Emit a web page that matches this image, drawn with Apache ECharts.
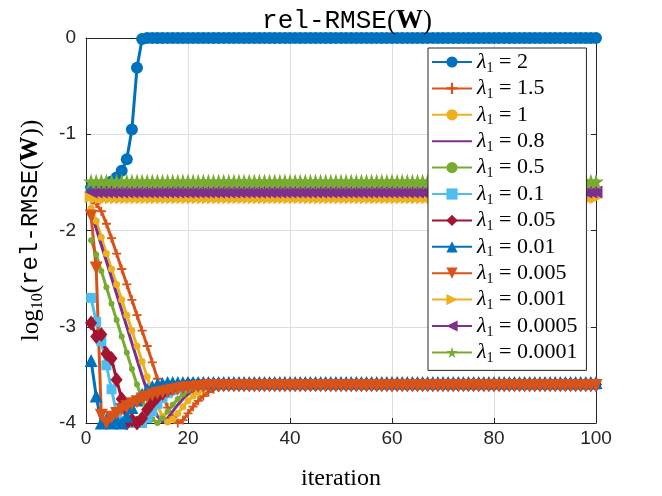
<!DOCTYPE html>
<html>
<head>
<meta charset="utf-8">
<script src="https://cdn.jsdelivr.net/npm/echarts@6/dist/echarts.min.js"></script>
<style>
  html, body { margin: 0; padding: 0; background: #fff; }
  #chart { width: 662px; height: 496px; }
</style>
</head>
<body>
<div id="chart"></div>
<script>
// lambda_1 values shown in the legend
const lambdaLabels = ['2', '1.5', '1', '0.8', '0.5', '0.1', '0.05', '0.01', '0.005', '0.001', '0.0005', '0.0001'];

// iteration index 1..100
const iterations = Array.from({ length: 100 }, (_, i) => i + 1);

// log10(rel-RMSE(W)) per iteration
const lam2 = [
  -1.55,-1.55,-1.54,-1.52,-1.49,-1.45,-1.38,-1.26,-0.95,-0.31,
  -0.01,0,0,0,0,0,0,0,0,0,
  0,0,0,0,0,0,0,0,0,0,
  0,0,0,0,0,0,0,0,0,0,
  0,0,0,0,0,0,0,0,0,0,
  0,0,0,0,0,0,0,0,0,0,
  0,0,0,0,0,0,0,0,0,0,
  0,0,0,0,0,0,0,0,0,0,
  0,0,0,0,0,0,0,0,0,0,
  0,0,0,0,0,0,0,0,0,0
];
const lam15 = [
  -1.68,-1.72,-1.80,-1.93,-2.08,-2.24,-2.40,-2.56,-2.72,-2.88,
  -3.04,-3.20,-3.37,-3.54,-3.70,-3.84,-3.94,-4.00,-3.97,-3.90,
  -3.83,-3.77,-3.72,-3.68,-3.65,-3.63,-3.62,-3.61,-3.61,-3.60,
  -3.60,-3.60,-3.60,-3.60,-3.60,-3.60,-3.60,-3.60,-3.60,-3.60,
  -3.60,-3.60,-3.60,-3.60,-3.60,-3.60,-3.60,-3.60,-3.60,-3.60,
  -3.60,-3.60,-3.60,-3.60,-3.60,-3.60,-3.60,-3.60,-3.60,-3.60,
  -3.60,-3.60,-3.60,-3.60,-3.60,-3.60,-3.60,-3.60,-3.60,-3.60,
  -3.60,-3.60,-3.60,-3.60,-3.60,-3.60,-3.60,-3.60,-3.60,-3.60,
  -3.60,-3.60,-3.60,-3.60,-3.60,-3.60,-3.60,-3.60,-3.60,-3.60,
  -3.60,-3.60,-3.60,-3.60,-3.60,-3.60,-3.60,-3.60,-3.60,-3.60
];
const lam1 = [
  -1.77,-1.90,-2.07,-2.24,-2.40,-2.56,-2.72,-2.88,-3.04,-3.20,
  -3.36,-3.52,-3.68,-3.82,-3.93,-3.99,-3.96,-3.90,-3.83,-3.77,
  -3.72,-3.68,-3.65,-3.63,-3.62,-3.61,-3.61,-3.60,-3.60,-3.60,
  -3.60,-3.60,-3.60,-3.60,-3.60,-3.60,-3.60,-3.60,-3.60,-3.60,
  -3.60,-3.60,-3.60,-3.60,-3.60,-3.60,-3.60,-3.60,-3.60,-3.60,
  -3.60,-3.60,-3.60,-3.60,-3.60,-3.60,-3.60,-3.60,-3.60,-3.60,
  -3.60,-3.60,-3.60,-3.60,-3.60,-3.60,-3.60,-3.60,-3.60,-3.60,
  -3.60,-3.60,-3.60,-3.60,-3.60,-3.60,-3.60,-3.60,-3.60,-3.60,
  -3.60,-3.60,-3.60,-3.60,-3.60,-3.60,-3.60,-3.60,-3.60,-3.60,
  -3.60,-3.60,-3.60,-3.60,-3.60,-3.60,-3.60,-3.60,-3.60,-3.60
];
const lam08 = [
  -1.83,-1.98,-2.15,-2.32,-2.49,-2.66,-2.83,-3.00,-3.17,-3.34,
  -3.51,-3.67,-3.82,-3.93,-3.99,-3.95,-3.88,-3.81,-3.75,-3.70,
  -3.67,-3.64,-3.62,-3.61,-3.61,-3.60,-3.60,-3.60,-3.60,-3.60,
  -3.60,-3.60,-3.60,-3.60,-3.60,-3.60,-3.60,-3.60,-3.60,-3.60,
  -3.60,-3.60,-3.60,-3.60,-3.60,-3.60,-3.60,-3.60,-3.60,-3.60,
  -3.60,-3.60,-3.60,-3.60,-3.60,-3.60,-3.60,-3.60,-3.60,-3.60,
  -3.60,-3.60,-3.60,-3.60,-3.60,-3.60,-3.60,-3.60,-3.60,-3.60,
  -3.60,-3.60,-3.60,-3.60,-3.60,-3.60,-3.60,-3.60,-3.60,-3.60,
  -3.60,-3.60,-3.60,-3.60,-3.60,-3.60,-3.60,-3.60,-3.60,-3.60,
  -3.60,-3.60,-3.60,-3.60,-3.60,-3.60,-3.60,-3.60,-3.60,-3.60
];
const lam05 = [
  -2.10,-2.25,-2.42,-2.59,-2.76,-2.93,-3.10,-3.27,-3.44,-3.60,
  -3.75,-3.87,-3.96,-4.00,-3.95,-3.88,-3.81,-3.75,-3.70,-3.66,
  -3.64,-3.62,-3.61,-3.61,-3.60,-3.60,-3.60,-3.60,-3.60,-3.60,
  -3.60,-3.60,-3.60,-3.60,-3.60,-3.60,-3.60,-3.60,-3.60,-3.60,
  -3.60,-3.60,-3.60,-3.60,-3.60,-3.60,-3.60,-3.60,-3.60,-3.60,
  -3.60,-3.60,-3.60,-3.60,-3.60,-3.60,-3.60,-3.60,-3.60,-3.60,
  -3.60,-3.60,-3.60,-3.60,-3.60,-3.60,-3.60,-3.60,-3.60,-3.60,
  -3.60,-3.60,-3.60,-3.60,-3.60,-3.60,-3.60,-3.60,-3.60,-3.60,
  -3.60,-3.60,-3.60,-3.60,-3.60,-3.60,-3.60,-3.60,-3.60,-3.60,
  -3.60,-3.60,-3.60,-3.60,-3.60,-3.60,-3.60,-3.60,-3.60,-3.60
];
const lam01 = [
  -2.70,-2.95,-3.15,-3.40,-3.65,-3.90,-4.00,-3.98,-4.00,-3.98,
  -4.00,-3.95,-3.88,-3.80,-3.74,-3.69,-3.66,-3.64,-3.62,-3.61,
  -3.60,-3.60,-3.60,-3.60,-3.60,-3.60,-3.60,-3.60,-3.60,-3.60,
  -3.60,-3.60,-3.60,-3.60,-3.60,-3.60,-3.60,-3.60,-3.60,-3.60,
  -3.60,-3.60,-3.60,-3.60,-3.60,-3.60,-3.60,-3.60,-3.60,-3.60,
  -3.60,-3.60,-3.60,-3.60,-3.60,-3.60,-3.60,-3.60,-3.60,-3.60,
  -3.60,-3.60,-3.60,-3.60,-3.60,-3.60,-3.60,-3.60,-3.60,-3.60,
  -3.60,-3.60,-3.60,-3.60,-3.60,-3.60,-3.60,-3.60,-3.60,-3.60,
  -3.60,-3.60,-3.60,-3.60,-3.60,-3.60,-3.60,-3.60,-3.60,-3.60,
  -3.60,-3.60,-3.60,-3.60,-3.60,-3.60,-3.60,-3.60,-3.60,-3.60
];
const lam005 = [
  -2.96,-3.10,-3.08,-3.28,-3.33,-3.55,-3.75,-4.00,-3.97,-4.00,
  -3.95,-3.86,-3.79,-3.73,-3.69,-3.66,-3.64,-3.62,-3.61,-3.60,
  -3.60,-3.60,-3.60,-3.60,-3.60,-3.60,-3.60,-3.60,-3.60,-3.60,
  -3.60,-3.60,-3.60,-3.60,-3.60,-3.60,-3.60,-3.60,-3.60,-3.60,
  -3.60,-3.60,-3.60,-3.60,-3.60,-3.60,-3.60,-3.60,-3.60,-3.60,
  -3.60,-3.60,-3.60,-3.60,-3.60,-3.60,-3.60,-3.60,-3.60,-3.60,
  -3.60,-3.60,-3.60,-3.60,-3.60,-3.60,-3.60,-3.60,-3.60,-3.60,
  -3.60,-3.60,-3.60,-3.60,-3.60,-3.60,-3.60,-3.60,-3.60,-3.60,
  -3.60,-3.60,-3.60,-3.60,-3.60,-3.60,-3.60,-3.60,-3.60,-3.60,
  -3.60,-3.60,-3.60,-3.60,-3.60,-3.60,-3.60,-3.60,-3.60,-3.60
];
const lam001 = [
  -3.35,-3.72,-4.00,-3.96,-4.00,-3.97,-4.00,-3.93,-3.84,-3.76,
  -3.70,-3.65,-3.62,-3.60,-3.59,-3.58,-3.58,-3.58,-3.58,-3.58,
  -3.58,-3.58,-3.58,-3.58,-3.58,-3.58,-3.58,-3.58,-3.58,-3.58,
  -3.58,-3.58,-3.58,-3.58,-3.58,-3.58,-3.58,-3.58,-3.58,-3.58,
  -3.58,-3.58,-3.58,-3.58,-3.58,-3.58,-3.58,-3.58,-3.58,-3.58,
  -3.58,-3.58,-3.58,-3.58,-3.58,-3.58,-3.58,-3.58,-3.58,-3.58,
  -3.58,-3.58,-3.58,-3.58,-3.58,-3.58,-3.58,-3.58,-3.58,-3.58,
  -3.58,-3.58,-3.58,-3.58,-3.58,-3.58,-3.58,-3.58,-3.58,-3.58,
  -3.58,-3.58,-3.58,-3.58,-3.58,-3.58,-3.58,-3.58,-3.58,-3.58,
  -3.58,-3.58,-3.58,-3.58,-3.58,-3.58,-3.58,-3.58,-3.58,-3.58
];
const lam0005 = [
  -1.85,-2.39,-3.92,-4.00,-3.94,-3.90,-3.86,-3.83,-3.80,-3.78,
  -3.75,-3.73,-3.71,-3.69,-3.68,-3.67,-3.66,-3.65,-3.64,-3.63,
  -3.63,-3.62,-3.62,-3.61,-3.61,-3.61,-3.61,-3.61,-3.61,-3.61,
  -3.61,-3.61,-3.61,-3.61,-3.61,-3.61,-3.61,-3.61,-3.61,-3.61,
  -3.61,-3.61,-3.61,-3.61,-3.61,-3.61,-3.61,-3.61,-3.61,-3.61,
  -3.61,-3.61,-3.61,-3.61,-3.61,-3.61,-3.61,-3.61,-3.61,-3.61,
  -3.61,-3.61,-3.61,-3.61,-3.61,-3.61,-3.61,-3.61,-3.61,-3.61,
  -3.61,-3.61,-3.61,-3.61,-3.61,-3.61,-3.61,-3.61,-3.61,-3.61,
  -3.61,-3.61,-3.61,-3.61,-3.61,-3.61,-3.61,-3.61,-3.61,-3.61,
  -3.61,-3.61,-3.61,-3.61,-3.61,-3.61,-3.61,-3.61,-3.61,-3.61
];
const lam0001 = [
  -1.65,-1.66,-1.66,-1.66,-1.66,-1.66,-1.66,-1.66,-1.66,-1.66,
  -1.66,-1.66,-1.66,-1.66,-1.66,-1.66,-1.66,-1.66,-1.66,-1.66,
  -1.66,-1.66,-1.66,-1.66,-1.66,-1.66,-1.66,-1.66,-1.66,-1.66,
  -1.66,-1.66,-1.66,-1.66,-1.66,-1.66,-1.66,-1.66,-1.66,-1.66,
  -1.66,-1.66,-1.66,-1.66,-1.66,-1.66,-1.66,-1.66,-1.66,-1.66,
  -1.66,-1.66,-1.66,-1.66,-1.66,-1.66,-1.66,-1.66,-1.66,-1.66,
  -1.66,-1.66,-1.66,-1.66,-1.66,-1.66,-1.66,-1.66,-1.66,-1.66,
  -1.66,-1.66,-1.66,-1.66,-1.66,-1.66,-1.66,-1.66,-1.66,-1.66,
  -1.66,-1.66,-1.66,-1.66,-1.66,-1.66,-1.66,-1.66,-1.66,-1.66,
  -1.66,-1.66,-1.66,-1.66,-1.66,-1.66,-1.66,-1.66,-1.66,-1.66
];
const lam00005 = [
  -1.60,-1.60,-1.60,-1.60,-1.60,-1.60,-1.60,-1.60,-1.60,-1.60,
  -1.60,-1.60,-1.60,-1.60,-1.60,-1.60,-1.60,-1.60,-1.60,-1.60,
  -1.60,-1.60,-1.60,-1.60,-1.60,-1.60,-1.60,-1.60,-1.60,-1.60,
  -1.60,-1.60,-1.60,-1.60,-1.60,-1.60,-1.60,-1.60,-1.60,-1.60,
  -1.60,-1.60,-1.60,-1.60,-1.60,-1.60,-1.60,-1.60,-1.60,-1.60,
  -1.60,-1.60,-1.60,-1.60,-1.60,-1.60,-1.60,-1.60,-1.60,-1.60,
  -1.60,-1.60,-1.60,-1.60,-1.60,-1.60,-1.60,-1.60,-1.60,-1.60,
  -1.60,-1.60,-1.60,-1.60,-1.60,-1.60,-1.60,-1.60,-1.60,-1.60,
  -1.60,-1.60,-1.60,-1.60,-1.60,-1.60,-1.60,-1.60,-1.60,-1.60,
  -1.60,-1.60,-1.60,-1.60,-1.60,-1.60,-1.60,-1.60,-1.60,-1.60
];
const lam00001 = [
  -1.49,-1.49,-1.49,-1.49,-1.49,-1.49,-1.49,-1.49,-1.49,-1.49,
  -1.49,-1.49,-1.49,-1.49,-1.49,-1.49,-1.49,-1.49,-1.49,-1.49,
  -1.49,-1.49,-1.49,-1.49,-1.49,-1.49,-1.49,-1.49,-1.49,-1.49,
  -1.49,-1.49,-1.49,-1.49,-1.49,-1.49,-1.49,-1.49,-1.49,-1.49,
  -1.49,-1.49,-1.49,-1.49,-1.49,-1.49,-1.49,-1.49,-1.49,-1.49,
  -1.49,-1.49,-1.49,-1.49,-1.49,-1.49,-1.49,-1.49,-1.49,-1.49,
  -1.49,-1.49,-1.49,-1.49,-1.49,-1.49,-1.49,-1.49,-1.49,-1.49,
  -1.49,-1.49,-1.49,-1.49,-1.49,-1.49,-1.49,-1.49,-1.49,-1.49,
  -1.49,-1.49,-1.49,-1.49,-1.49,-1.49,-1.49,-1.49,-1.49,-1.49,
  -1.49,-1.49,-1.49,-1.49,-1.49,-1.49,-1.49,-1.49,-1.49,-1.49
];

const seriesValues = [lam2, lam15, lam1, lam08, lam05, lam01, lam005, lam001, lam0005, lam0001, lam00005, lam00001];

// MATLAB default colour order
const colors = ['#0072BD', '#D95319', '#EDB120', '#7E2F8E', '#77AC30', '#4DBEEE', '#A2142F',
                '#0072BD', '#D95319', '#EDB120', '#7E2F8E', '#77AC30'];

const PLUS = 'path://M4,0H6V4H10V6H6V10H4V6H0V4H4Z';
const STAR = 'path://M50,0L61,35L98,35L68,57L79,91L50,70L21,91L32,57L2,35L39,35Z';
// marker: [symbol, size, rotate]
const markers = [
  ['circle', 12, 0], [PLUS, 9, 0], ['circle', 7, 0], ['none', 0, 0], ['circle', 6, 0],
  ['rect', 10, 0], ['diamond', [12, 15], 0], ['triangle', 13, 0], ['triangle', 13, 180],
  ['triangle', 13, -90], ['triangle', 13, 90], [STAR, 16, 0]
];

const series = lambdaLabels.map((lab, i) => ({
  name: lab,
  type: 'line',
  data: iterations.map((it, j) => [it, seriesValues[i][j]]),
  symbol: markers[i][0],
  symbolSize: markers[i][1],
  symbolRotate: markers[i][2],
  showSymbol: markers[i][0] !== 'none',
  clip: false,
  color: colors[i],
  lineStyle: { width: 3, color: colors[i] },
  itemStyle: { color: colors[i] },
  emphasis: { disabled: true }
}));

// legend entries; the marker-less line gets an invisible symbol
const legendData = lambdaLabels.map((lab, i) =>
  markers[i][0] === 'none' ? { name: lab, itemStyle: { opacity: 0 } } : { name: lab });

const axisColor = '#262626';
const gridColor = '#dedede';

const option = {
  backgroundColor: '#fff',
  animation: false,
  title: {
    text: '{t|rel-RMSE}{p|(}{b|W}{p|)}',
    left: 342,
    top: 3,
    textAlign: 'center',
    textStyle: {
      rich: {
        t: { fontFamily: 'Liberation Mono', fontWeight: 'normal', fontSize: 26, color: '#000' },
        p: { fontFamily: 'Liberation Serif', fontWeight: 'normal', fontSize: 27, color: '#000' },
        b: { fontFamily: 'Liberation Serif', fontWeight: 'bold', fontSize: 27, color: '#000' }
      }
    }
  },
  grid: { left: 86, right: 66, top: 38, bottom: 73 },
  legend: {
    orient: 'vertical',
    left: 428,
    top: 48,
    itemWidth: 40,
    itemHeight: 14,
    itemGap: 2.4,
    padding: [3, 9, 5, 3],
    backgroundColor: '#fff',
    borderColor: axisColor,
    borderWidth: 1,
    selectedMode: false,
    formatter: name => '{l|λ}{s|1}{e| = ' + name + '}',
    textStyle: {
      rich: {
        l: { fontFamily: 'Liberation Serif', fontStyle: 'italic', fontSize: 22, lineHeight: 26, color: '#000' },
        s: { fontFamily: 'Liberation Serif', fontSize: 14, lineHeight: 14, verticalAlign: 'bottom', color: '#000' },
        e: { fontFamily: 'Liberation Serif', fontSize: 22, lineHeight: 26, color: '#000' }
      }
    },
    data: legendData
  },
  xAxis: [{
    type: 'value', min: 0, max: 100, interval: 20,
    name: 'iteration', nameLocation: 'middle', nameGap: 44,
    nameTextStyle: { fontFamily: 'Liberation Serif', fontSize: 24, color: '#000' },
    axisLine: { show: true, onZero: false, lineStyle: { color: axisColor, width: 1 } },
    axisTick: { show: true, inside: true, length: 5, lineStyle: { color: axisColor } },
    axisLabel: { margin: 6, fontFamily: 'Liberation Sans', fontSize: 19, color: axisColor },
    splitLine: { show: true, lineStyle: { color: gridColor, width: 1 } }
  }, {
    type: 'value', min: 0, max: 100, interval: 20, position: 'top',
    axisLine: { show: true, onZero: false, lineStyle: { color: axisColor, width: 1 } },
    axisTick: { show: true, inside: true, length: 5, lineStyle: { color: axisColor } },
    axisLabel: { show: false },
    splitLine: { show: false }
  }],
  yAxis: [{
    type: 'value', min: -4, max: 0, interval: 1,
    name: '{r|log}{s|10}{r|(}{t|rel-RMSE}{r|(}{b|W}{r|))}',
    nameLocation: 'middle', nameGap: 40,
    nameTextStyle: {
      rich: {
        r: { fontFamily: 'Liberation Serif', fontSize: 25, lineHeight: 30, color: '#000' },
        s: { fontFamily: 'Liberation Serif', fontSize: 16, lineHeight: 16, verticalAlign: 'bottom', color: '#000' },
        t: { fontFamily: 'Liberation Mono', fontSize: 24, lineHeight: 30, color: '#000' },
        b: { fontFamily: 'Liberation Serif', fontWeight: 'bold', fontSize: 25, lineHeight: 30, color: '#000' }
      }
    },
    axisLine: { show: true, onZero: false, lineStyle: { color: axisColor, width: 1 } },
    axisTick: { show: true, inside: true, length: 5, lineStyle: { color: axisColor } },
    axisLabel: { margin: 10, fontFamily: 'Liberation Sans', fontSize: 19, color: axisColor },
    splitLine: { show: true, lineStyle: { color: gridColor, width: 1 } }
  }, {
    type: 'value', min: -4, max: 0, interval: 1, position: 'right',
    axisLine: { show: true, onZero: false, lineStyle: { color: axisColor, width: 1 } },
    axisTick: { show: true, inside: true, length: 5, lineStyle: { color: axisColor } },
    axisLabel: { show: false },
    splitLine: { show: false }
  }],
  series: series
};

const chart = echarts.init(document.getElementById('chart'));
chart.setOption(option);
</script>
</body>
</html>
